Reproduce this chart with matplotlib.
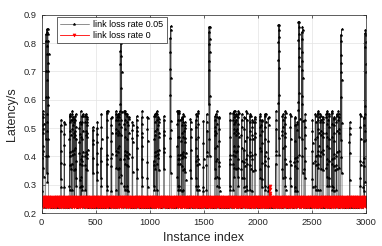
import numpy as np
import matplotlib
matplotlib.use('Agg')
import matplotlib.pyplot as plt

plt.rcParams['font.family'] = ['Liberation Sans', 'DejaVu Sans']

N_POINTS = 3000

# black series (loss rate 0.05): quiet level between bursts
black_base = [0.243, 0.238, 0.246, 0.235, 0.241, 0.229, 0.244, 0.237, 0.248, 0.233, 0.240, 0.222, 0.245]
# bursts: start index, number of samples, top latency
burst_start = [0, 9, 38, 175, 206, 255, 277, 292, 307, 347, 360, 369, 400, 415, 471,
               508, 547, 600, 640, 683, 701, 713, 725, 762, 785, 799, 836, 877, 923, 975,
               1037, 1061, 1076, 1128, 1185, 1252, 1270, 1292, 1307, 1323, 1375, 1424, 1445, 1492,
               1523, 1545, 1600, 1616, 1637, 1738, 1769, 1791, 1809, 1846, 1870, 1892, 1923, 1944,
               1969, 2015, 2031, 2061, 2092, 2163, 2187, 2224, 2246, 2298, 2338, 2359, 2372, 2403,
               2430, 2501, 2529, 2550, 2575, 2599, 2631, 2652, 2682, 2698, 2723, 2744, 2765, 2846,
               2944, 2975, 2988]
burst_len = [6, 10, 26, 7, 6, 14, 8, 9, 12, 8, 6, 12, 11, 10, 6,
             8, 7, 10, 9, 10, 8, 9, 16, 14, 9, 8, 7, 8, 9, 7,
             14, 9, 10, 7, 12, 13, 9, 12, 8, 9, 7, 12, 8, 6,
             7, 12, 10, 8, 9, 8, 16, 9, 14, 8, 10, 9, 11, 9,
             7, 8, 9, 12, 8, 7, 12, 9, 12, 8, 9, 7, 14, 14,
             8, 7, 9, 14, 10, 8, 13, 9, 8, 12, 9, 8, 12, 6,
             8, 9, 12]
burst_top = [0.54, 0.56, 0.85, 0.53, 0.52, 0.55, 0.56, 0.54, 0.55, 0.52, 0.56, 0.55, 0.55, 0.54, 0.51,
             0.52, 0.55, 0.56, 0.54, 0.56, 0.55, 0.56, 0.81, 0.56, 0.55, 0.54, 0.52, 0.55, 0.56, 0.54,
             0.55, 0.56, 0.54, 0.55, 0.86, 0.56, 0.56, 0.54, 0.55, 0.52, 0.54, 0.55, 0.56, 0.53,
             0.55, 0.858, 0.55, 0.56, 0.54, 0.56, 0.56, 0.55, 0.56, 0.55, 0.54, 0.56, 0.55, 0.53,
             0.54, 0.55, 0.53, 0.55, 0.54, 0.56, 0.864, 0.55, 0.56, 0.55, 0.54, 0.52, 0.875, 0.858,
             0.55, 0.53, 0.55, 0.56, 0.55, 0.54, 0.56, 0.55, 0.56, 0.54, 0.55, 0.56, 0.848, 0.52,
             0.55, 0.54, 0.846]
# fractions of (top - floor) visited inside a burst
burst_shape = [0.1, 0.5, 0.9, 1.0, 0.55, 0.8, 0.97, 0.35, 0.75, 0.93, 0.6, 0.25,
               0.85, 1.0, 0.45, 0.15, 0.7, 0.98, 0.4]

# red series (loss rate 0): narrow band with one small spike
red_base = [0.248, 0.236, 0.253, 0.241, 0.232, 0.250, 0.244, 0.226, 0.247, 0.238,
            0.255, 0.234, 0.246, 0.229, 0.252, 0.240, 0.222, 0.249, 0.243, 0.235]
red_spike_idx = [2108, 2109, 2110, 2111]
red_spike_val = [0.27, 0.294, 0.285, 0.262]


def build_black():
    y = np.resize(np.array(black_base), N_POINTS)
    m = len(burst_shape)
    for j, (s, n, top) in enumerate(zip(burst_start, burst_len, burst_top)):
        for k in range(n):
            i = s + k
            if i >= N_POINTS:
                break
            y[i] = 0.25 + burst_shape[(k + 3 * j) % m] * (top - 0.25)
    return y


def build_red():
    y = np.resize(np.array(red_base), N_POINTS)
    for i, v in zip(red_spike_idx, red_spike_val):
        y[i] = v
    return y


def plot_chart():
    x = np.arange(1, N_POINTS + 1)
    fig = plt.figure(figsize=(3.82, 2.46), dpi=100)
    ax = fig.add_axes([0.109, 0.134, 0.849, 0.806])
    ax.plot(x, build_black(), color='#3a3a3a', lw=0.4, marker='*', ms=2.0,
            mew=0.4, mec='black', mfc='black', label='link loss rate 0.05')
    ax.plot(x, build_red(), color='red', lw=0.6, marker='v', ms=2.2,
            mew=0.4, label='link loss rate 0')
    ax.set_xlim(0, 3000)
    ax.set_ylim(0.2, 0.9)
    ax.set_xticks(np.arange(0, 3001, 500))
    ax.set_yticks(np.arange(0.2, 0.91, 0.1))
    ax.set_yticklabels([f'{v:.1f}' for v in np.arange(0.2, 0.91, 0.1)])
    ax.tick_params(direction='in', top=True, right=True, labelsize=6.7,
                   length=2.5, width=0.5, colors='#262626')
    ax.grid(True, color='#e3e3e3', lw=0.5)
    ax.set_axisbelow(True)
    for sp in ax.spines.values():
        sp.set_linewidth(0.5)
        sp.set_color('#262626')
    ax.set_xlabel('Instance index', fontsize=9, color='#262626', labelpad=4)
    ax.set_ylabel('Latency/s', fontsize=9, color='#262626', labelpad=4)
    leg = ax.legend(loc='upper left', bbox_to_anchor=(0.047, 0.99), borderaxespad=0,
                    fontsize=6.5, handlelength=3.2, frameon=True, fancybox=False,
                    edgecolor='#262626', framealpha=1, borderpad=0.35, labelspacing=0.25,
                    handletextpad=0.5)
    leg.get_frame().set_linewidth(0.5)
    fig.savefig('out.png', dpi=100)
    plt.close(fig)


if __name__ == '__main__':
    plot_chart()
